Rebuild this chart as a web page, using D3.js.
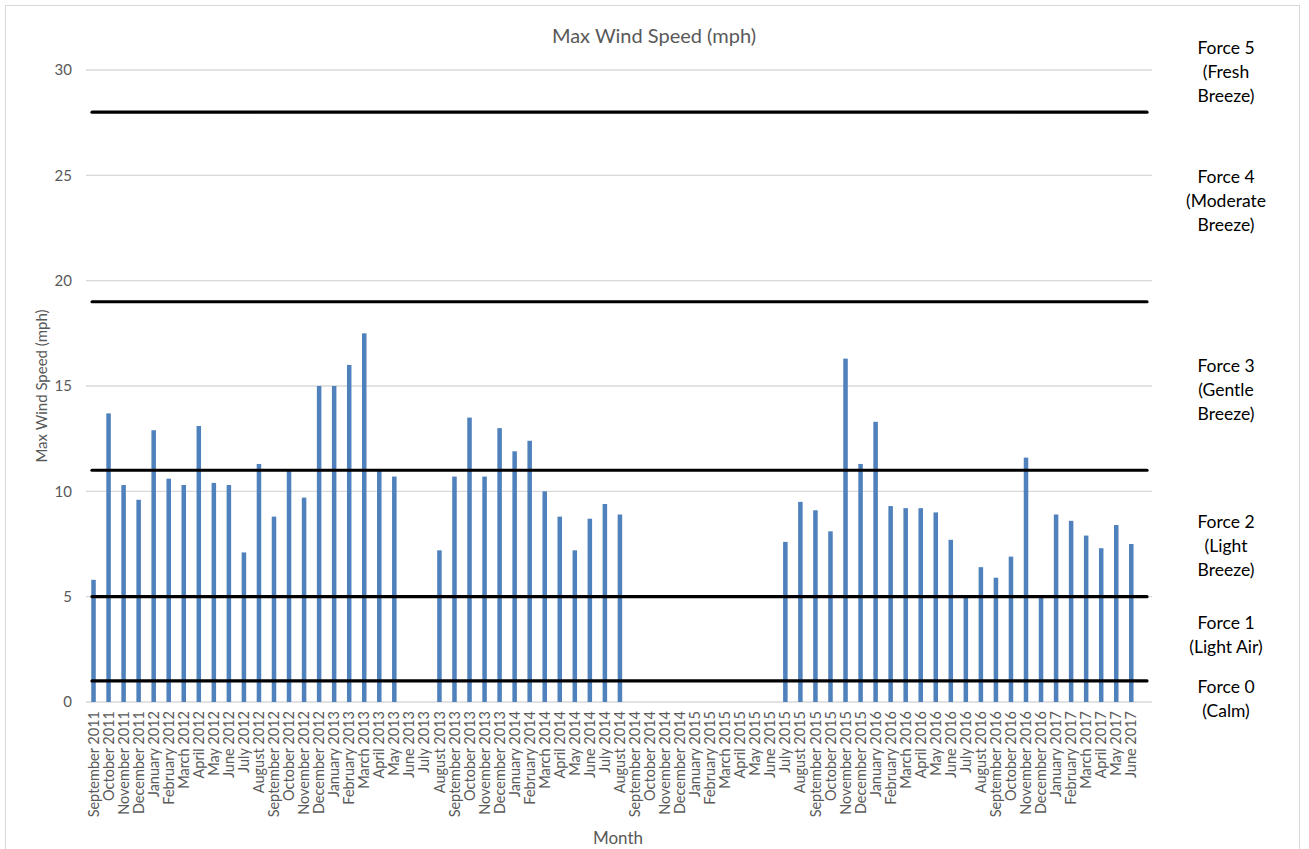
<!DOCTYPE html>
<html><head><meta charset="utf-8">
<script src="https://cdn.jsdelivr.net/npm/d3@7"></script>
<style>body{margin:0;background:#fff;} text{font-family:Lato,"Open Sans",sans-serif;}</style>
</head><body><svg id="c" width="1309" height="849"></svg>
<script>
const months = ["September 2011","October 2011","November 2011","December 2011",
"January 2012","February 2012","March 2012","April 2012","May 2012","June 2012","July 2012","August 2012","September 2012","October 2012","November 2012","December 2012",
"January 2013","February 2013","March 2013","April 2013","May 2013","June 2013","July 2013","August 2013","September 2013","October 2013","November 2013","December 2013",
"January 2014","February 2014","March 2014","April 2014","May 2014","June 2014","July 2014","August 2014","September 2014","October 2014","November 2014","December 2014",
"January 2015","February 2015","March 2015","April 2015","May 2015","June 2015","July 2015","August 2015","September 2015","October 2015","November 2015","December 2015",
"January 2016","February 2016","March 2016","April 2016","May 2016","June 2016","July 2016","August 2016","September 2016","October 2016","November 2016","December 2016",
"January 2017","February 2017","March 2017","April 2017","May 2017","June 2017"];
const maxWind = [5.8,13.7,10.3,9.6,
12.9,10.6,10.3,13.1,10.4,10.3,7.1,11.3,8.8,11.0,9.7,15.0,
15.0,16.0,17.5,11.0,10.7,null,null,7.2,10.7,13.5,10.7,13.0,
11.9,12.4,10.0,8.8,7.2,8.7,9.4,8.9,null,null,null,null,
null,null,null,null,null,null,7.6,9.5,9.1,8.1,16.3,11.3,
13.3,9.3,9.2,9.2,9.0,7.7,5.0,6.4,5.9,6.9,11.6,5.0,
8.9,8.6,7.9,7.3,8.4,7.5];
const yTicks = [0,5,10,15,20,25,30];
const forceThresholds = [1,5,11,19,28];
const forceLabels = [
  {lines:["Force 5","(Fresh","Breeze)"], mid:29.9},
  {lines:["Force 4","(Moderate","Breeze)"], mid:23.78},
  {lines:["Force 3","(Gentle","Breeze)"], mid:14.8},
  {lines:["Force 2","(Light","Breeze)"], mid:7.4},
  {lines:["Force 1","(Light Air)"], mid:3.18},
  {lines:["Force 0","(Calm)"], mid:0.14}
];

const svg = d3.select("#c");
const gray = "#595959";
svg.append("rect").attr("x",5.5).attr("y",5.5).attr("width",1294).attr("height",850)
  .attr("fill","#fff").attr("stroke","#d9d9d9").attr("stroke-width",1);

const x = d3.scaleBand().domain(months).range([86, 86+70*15.04]).paddingInner(0.7).paddingOuter(0.35);
const y = d3.scaleLinear().domain([0,30]).range([702,70]);
const gridX0 = 86, gridX1 = 1152;

svg.append("g").selectAll("line").data(yTicks).join("line")
  .attr("x1",gridX0).attr("x2",gridX1).attr("y1",d=>y(d)).attr("y2",d=>y(d))
  .attr("stroke","#d9d9d9").attr("stroke-width",1.3);

const yAxis = svg.append("g").attr("transform","translate(86,0)")
  .call(d3.axisLeft(y).tickValues(yTicks).tickSize(0).tickPadding(14));
yAxis.select(".domain").remove();
yAxis.selectAll("text").attr("fill",gray).style("font-size","15px").style("font-family","Lato");

svg.append("g").selectAll("rect").data(months.map((m,i)=>({m,v:maxWind[i]})).filter(d=>d.v!=null))
  .join("rect")
  .attr("x",d=>x(d.m)).attr("width",x.bandwidth())
  .attr("y",d=>y(d.v)).attr("height",d=>y(0)-y(d.v))
  .attr("fill","#4f81bd");

svg.append("g").selectAll("line").data(forceThresholds).join("line")
  .attr("x1",92).attr("x2",1147).attr("y1",d=>y(d)).attr("y2",d=>y(d))
  .attr("stroke","#000").attr("stroke-width",3.2).attr("stroke-linecap","round");

const xAxis = svg.append("g").attr("transform","translate(0,702)")
  .call(d3.axisBottom(x).tickSize(0).tickPadding(0));
xAxis.select(".domain").remove();
xAxis.selectAll("text").attr("fill",gray).style("font-size","14.5px").style("font-family","Lato")
  .attr("transform","rotate(-90)").attr("text-anchor","end").attr("dy","0.35em").attr("x",-9).attr("y",0);

svg.append("text").attr("x",654).attr("y",43).attr("text-anchor","middle")
  .attr("fill",gray).style("font-size","20px").text("Max Wind Speed (mph)");
svg.append("text").attr("transform","translate(47,386) rotate(-90)").attr("text-anchor","middle")
  .attr("fill",gray).style("font-size","15px").text("Max Wind Speed (mph)");
svg.append("text").attr("x",618).attr("y",844).attr("text-anchor","middle")
  .attr("fill",gray).style("font-size","17px").text("Month");

const fl = svg.append("g");
forceLabels.forEach(f=>{
  const n = f.lines.length;
  const cy = y(f.mid);
  f.lines.forEach((t,i)=>{
    fl.append("text").attr("x",1226).attr("y", cy + (i-(n-1)/2)*24).attr("dy","0.35em")
      .attr("text-anchor","middle").attr("fill","#000").style("font-size","17.5px").text(t);
  });
});
</script></body></html>
